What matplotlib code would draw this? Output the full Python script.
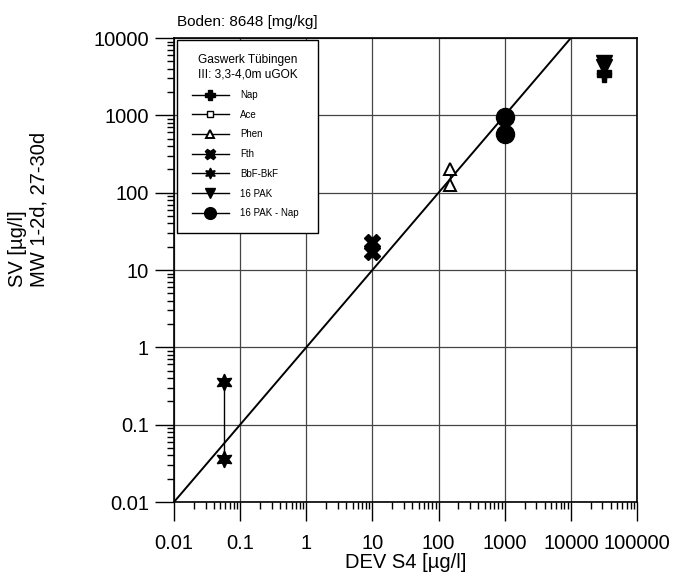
import numpy as np
import matplotlib
matplotlib.use("Agg")
import matplotlib.pyplot as plt
from matplotlib.ticker import FixedLocator, FixedFormatter, LogLocator, NullFormatter

plt.rcParams["font.family"] = ["Liberation Sans", "DejaVu Sans"]

# --- DATA ----------------------------------------------------------
nap_x = [32000, 32000]
nap_y = [3600, 3300]
ace_x = []
ace_y = []
phen_x = [150, 150]
phen_y = [200, 125]
fth_x = [10, 10]
fth_y = [23, 17]
bbf_x = [0.058, 0.058]
bbf_y = [0.36, 0.036]
pak_x = [32000, 32000]
pak_y = [4800, 4200]
pak_nap_x = [1020, 1020]
pak_nap_y = [950, 580]

diag = [0.01, 10000]
xticks = [0.01, 0.1, 1, 10, 100, 1000, 10000, 100000]
xticklabels = ["0.01", "0.1", "1", "10", "100", "1000", "10000", "100000"]
yticks = [0.01, 0.1, 1, 10, 100, 1000, 10000]
yticklabels = ["0.01", "0.1", "1", "10", "100", "1000", "10000"]

# --- PLOT ----------------------------------------------------------
fig = plt.figure(figsize=(6.75, 5.81), dpi=100)
ax = fig.add_axes([174 / 675, 1 - 502 / 581, 463 / 675, 464 / 581])
ax.set_xscale("log")
ax.set_yscale("log")
ax.set_xlim(0.01, 100000)
ax.set_ylim(0.01, 10000)

ax.grid(True, which="major", color="#444444", linewidth=0.9)
ax.set_axisbelow(True)

ax.plot(diag, diag, color="black", linewidth=1.4)

star6 = (6, 1, 0)
ax.plot(nap_x, nap_y, color="black", marker="P", markersize=10, lw=1, label="Nap")
ax.plot(ace_x, ace_y, color="black", marker="s", markerfacecolor="white", markersize=7, lw=1, label="Ace")
ax.plot(phen_x, phen_y, color="black", marker="^", markerfacecolor="white", markersize=9,
        markeredgewidth=1.4, lw=1, label="Phen")
ax.plot(fth_x, fth_y, color="black", marker="X", markersize=12, lw=1, label="Fth")
ax.plot(bbf_x, bbf_y, color="black", marker=star6, markersize=12, lw=1, label="BbF-BkF")
ax.plot(pak_x, pak_y, color="black", marker="v", markersize=11, lw=1, label="16 PAK")
ax.plot(pak_nap_x, pak_nap_y, color="black", marker="o", markersize=13, lw=1, label="16 PAK - Nap")

ax.xaxis.set_major_locator(FixedLocator(xticks))
ax.xaxis.set_major_formatter(FixedFormatter(xticklabels))
ax.yaxis.set_major_locator(FixedLocator(yticks))
ax.yaxis.set_major_formatter(FixedFormatter(yticklabels))
ax.xaxis.set_minor_locator(LogLocator(base=10, subs=np.arange(2, 10), numticks=20))
ax.yaxis.set_minor_locator(LogLocator(base=10, subs=np.arange(2, 10), numticks=20))
ax.xaxis.set_minor_formatter(NullFormatter())
ax.yaxis.set_minor_formatter(NullFormatter())
ax.tick_params(which="major", length=14, width=1, labelsize=14.5, direction="out")
ax.tick_params(axis="x", which="major", pad=9)
ax.tick_params(axis="y", which="major", pad=4)
ax.tick_params(which="minor", length=5, width=1, direction="out")
for s in ax.spines.values():
    s.set_linewidth(1.2)

ax.set_xlabel("DEV S4 [µg/l]", fontsize=14.5, labelpad=0)
ax.set_ylabel("SV [µg/l]\nMW 1-2d, 27-30d", fontsize=14.5, linespacing=1.2, multialignment="left")
ax.yaxis.set_label_coords(-0.27, 0.63)

ax.text(0.006, 1.02, "Boden: 8648 [mg/kg]", transform=ax.transAxes, fontsize=11,
        ha="left", va="bottom")

leg = ax.legend(loc="upper left", bbox_to_anchor=(0.0065, 0.0, 0.3045, 0.996), mode="expand",
                borderaxespad=0, fontsize=7,
                title="Gaswerk Tübingen\nIII: 3,3-4,0m uGOK", title_fontsize=8.6,
                frameon=True, fancybox=False, edgecolor="black", framealpha=1,
                handlelength=3.8, labelspacing=1.0, borderpad=1.5, handletextpad=1.2,
                markerscale=0.65)
leg.get_frame().set_linewidth(1.0)

fig.savefig("out.png", dpi=100)
